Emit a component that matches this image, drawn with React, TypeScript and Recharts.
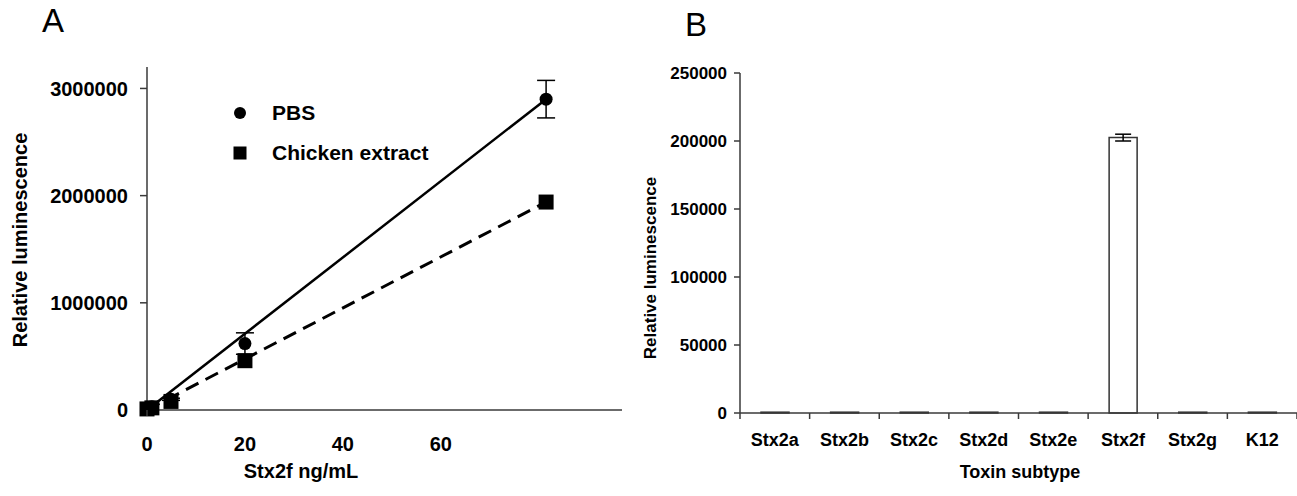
import { ScatterChart, Scatter, XAxis, YAxis, ErrorBar, Legend, BarChart, Bar } from 'recharts';

// Panel A: Stx2f dose response
const doseX = [0, 1, 4.9, 20, 81.5];
const pbsY = [10000, 30000, 100000, 620000, 2900000];
const pbsErr = [0, 0, 10000, 100000, 175000];
const chickenY = [10000, 20000, 80000, 460000, 1940000];
const chickenErr = [0, 0, 0, 0, 0];
const fitX = [0, 81.5];
const pbsFitY = [0, 2900000];
const chickenFitY = [0, 1940000];
const xTicksA = [0, 20, 40, 60];
const yTicksA = [0, 1000000, 2000000, 3000000];

// Panel B: subtype specificity
const subtypes = ['Stx2a', 'Stx2b', 'Stx2c', 'Stx2d', 'Stx2e', 'Stx2f', 'Stx2g', 'K12'];
const luminescence = [600, 600, 600, 600, 600, 202500, 600, 600];
const luminescenceErr = [0, 0, 0, 0, 0, 2500, 0, 0];
const yTicksB = [0, 50000, 100000, 150000, 200000, 250000];

const FONT = '"Liberation Sans", Arial, sans-serif';
const AXIS = '#3a3a3a';

const pbsData = doseX.map((x, i) => ({ x, y: pbsY[i], err: pbsErr[i] }));
const chickenData = doseX.map((x, i) => ({ x, y: chickenY[i], err: chickenErr[i] }));
const pbsFit = fitX.map((x, i) => ({ x, y: pbsFitY[i] }));
const chickenFit = fitX.map((x, i) => ({ x, y: chickenFitY[i] }));
const barData = subtypes.map((name, i) => ({ name, value: luminescence[i], err: luminescenceErr[i] }));

const CHART_B_LEFT = 640;
const CHART_B_W = 657;
const B_YAXIS_W = 100;
const BAND_B = (CHART_B_W - B_YAXIS_W) / subtypes.length;

const Dot = (p: any) => <circle cx={p.cx} cy={p.cy} r={6.5} fill="#000" />;
const Square = (p: any) => <rect x={p.cx - 7.5} y={p.cy - 7.5} width={15} height={15} fill="#000" />;
const NoShape = () => <g />;

const title = (text: string, x: number, y: number, size: number, rotate = false) => () => (
  <text
    x={x}
    y={y}
    textAnchor="middle"
    dominantBaseline="central"
    fontFamily={FONT}
    fontWeight="bold"
    fontSize={size}
    fill="#000"
    transform={rotate ? `rotate(-90 ${x} ${y})` : undefined}
  >
    {text}
  </text>
);

const legendA = () => (
  <div style={{ fontFamily: FONT, fontWeight: 'bold', fontSize: 21, color: '#000', lineHeight: '40px' }}>
    <div style={{ display: 'flex', alignItems: 'center' }}>
      <svg width={14} height={14} style={{ marginRight: 25 }}>
        <circle cx={7} cy={7} r={6} fill="#000" />
      </svg>
      PBS
    </div>
    <div style={{ display: 'flex', alignItems: 'center' }}>
      <svg width={14} height={14} style={{ marginRight: 25 }}>
        <rect x={0.5} y={0.5} width={13} height={13} fill="#000" />
      </svg>
      Chicken extract
    </div>
  </div>
);

// only the origin carries a tick mark on panel A's x axis
const DoseTick = (props: any) => {
  const { x, y, payload } = props;
  const axisY = y - 6 - 21;
  return (
    <g>
      {payload.value === 0 && <line x1={x} x2={x} y1={axisY} y2={axisY + 6} stroke={AXIS} strokeWidth={1.5} />}
      <text x={x} y={y} dy="0.71em" textAnchor="middle" fontFamily={FONT} fontWeight="bold" fontSize={20} fill="#000">
        {payload.value}
      </text>
    </g>
  );
};

const CategoryTick = (props: any) => {
  const { x, y, payload, index } = props;
  const axisY = y - 6 - 14;
  const half = BAND_B / 2;
  return (
    <g>
      <line x1={x - half} x2={x - half} y1={axisY} y2={axisY + 6} stroke={AXIS} strokeWidth={1.5} />
      {index === subtypes.length - 1 && (
        <line x1={x + half} x2={x + half} y1={axisY} y2={axisY + 6} stroke={AXIS} strokeWidth={1.5} />
      )}
      <text x={x} y={y} dy="0.71em" textAnchor="middle" fontFamily={FONT} fontWeight="bold" fontSize={18} fill="#000">
        {payload.value}
      </text>
    </g>
  );
};

function PanelA() {
  const tick = { fontFamily: FONT, fontWeight: 'bold', fontSize: 20, fill: '#000' };
  return (
    <ScatterChart width={640} height={496} margin={{ top: 67, right: 18, bottom: 46, left: 0 }}>
      <XAxis
        type="number"
        dataKey="x"
        domain={[0, 97]}
        ticks={xTicksA}
        interval={0}
        tick={DoseTick}
        tickLine={false}
        tickSize={6}
        tickMargin={21}
        height={40}
        axisLine={{ stroke: AXIS, strokeWidth: 1.5 }}
        label={{ content: title('Stx2f ng/mL', 301, 471, 20) }}
      />
      <YAxis
        type="number"
        dataKey="y"
        domain={[0, 3200000]}
        ticks={yTicksA}
        interval={0}
        width={147}
        tick={tick}
        tickSize={7}
        tickMargin={12}
        axisLine={{ stroke: AXIS, strokeWidth: 1.5 }}
        tickLine={{ stroke: AXIS, strokeWidth: 1.5 }}
        label={{ content: title('Relative luminescence', 20, 240, 20, true) }}
      />
      <Legend layout="vertical" align="center" verticalAlign="middle" content={legendA} wrapperStyle={{ left: 233, top: 93, width: 'auto' }} />
      <Scatter data={pbsFit} line={{ stroke: '#000', strokeWidth: 2.5 }} shape={NoShape} legendType="none" isAnimationActive={false} />
      <Scatter
        data={chickenFit}
        line={{ stroke: '#000', strokeWidth: 3, strokeDasharray: '14 8' }}
        shape={NoShape}
        legendType="none"
        isAnimationActive={false}
      />
      <Scatter name="PBS" data={pbsData} shape={Dot} isAnimationActive={false}>
        <ErrorBar dataKey="err" direction="y" width={9} stroke="#000" strokeWidth={1.5} />
      </Scatter>
      <Scatter name="Chicken extract" data={chickenData} shape={Square} isAnimationActive={false} />
    </ScatterChart>
  );
}

function PanelB() {
  return (
    <BarChart width={CHART_B_W} height={496} data={barData} margin={{ top: 73, right: 0, bottom: 43, left: 0 }}>
      <XAxis
        dataKey="name"
        interval={0}
        tick={CategoryTick}
        tickLine={false}
        tickSize={6}
        tickMargin={14}
        height={40}
        axisLine={{ stroke: AXIS, strokeWidth: 1.5 }}
        label={{ content: title('Toxin subtype', 1020 - CHART_B_LEFT, 472, 18) }}
      />
      <YAxis
        domain={[0, 250000]}
        ticks={yTicksB}
        interval={0}
        width={B_YAXIS_W}
        tick={{ fontFamily: FONT, fontWeight: 'bold', fontSize: 17, fill: '#000' }}
        tickSize={6}
        tickMargin={7}
        axisLine={{ stroke: AXIS, strokeWidth: 1.5 }}
        tickLine={{ stroke: AXIS, strokeWidth: 1.5 }}
        label={{ content: title('Relative luminescence', 650 - CHART_B_LEFT, 268, 17, true) }}
      />
      <Bar dataKey="value" barSize={28} fill="#fff" stroke="#333" strokeWidth={1.5} isAnimationActive={false}>
        <ErrorBar dataKey="err" direction="y" width={8} stroke="#000" strokeWidth={1.5} />
      </Bar>
    </BarChart>
  );
}

export default function App() {
  return (
    <div style={{ position: 'absolute', left: 0, top: 0, width: 1297, height: 496, background: '#fff' }}>
      <div style={{ position: 'absolute', left: 0, top: 0 }}>
        <PanelA />
      </div>
      <div style={{ position: 'absolute', left: CHART_B_LEFT, top: 0 }}>
        <PanelB />
      </div>
      <div style={{ position: 'absolute', left: 42, top: 2, fontFamily: FONT, fontSize: 33, color: '#000' }}>A</div>
      <div style={{ position: 'absolute', left: 685, top: 6, fontFamily: FONT, fontSize: 33, color: '#000' }}>B</div>
    </div>
  );
}
